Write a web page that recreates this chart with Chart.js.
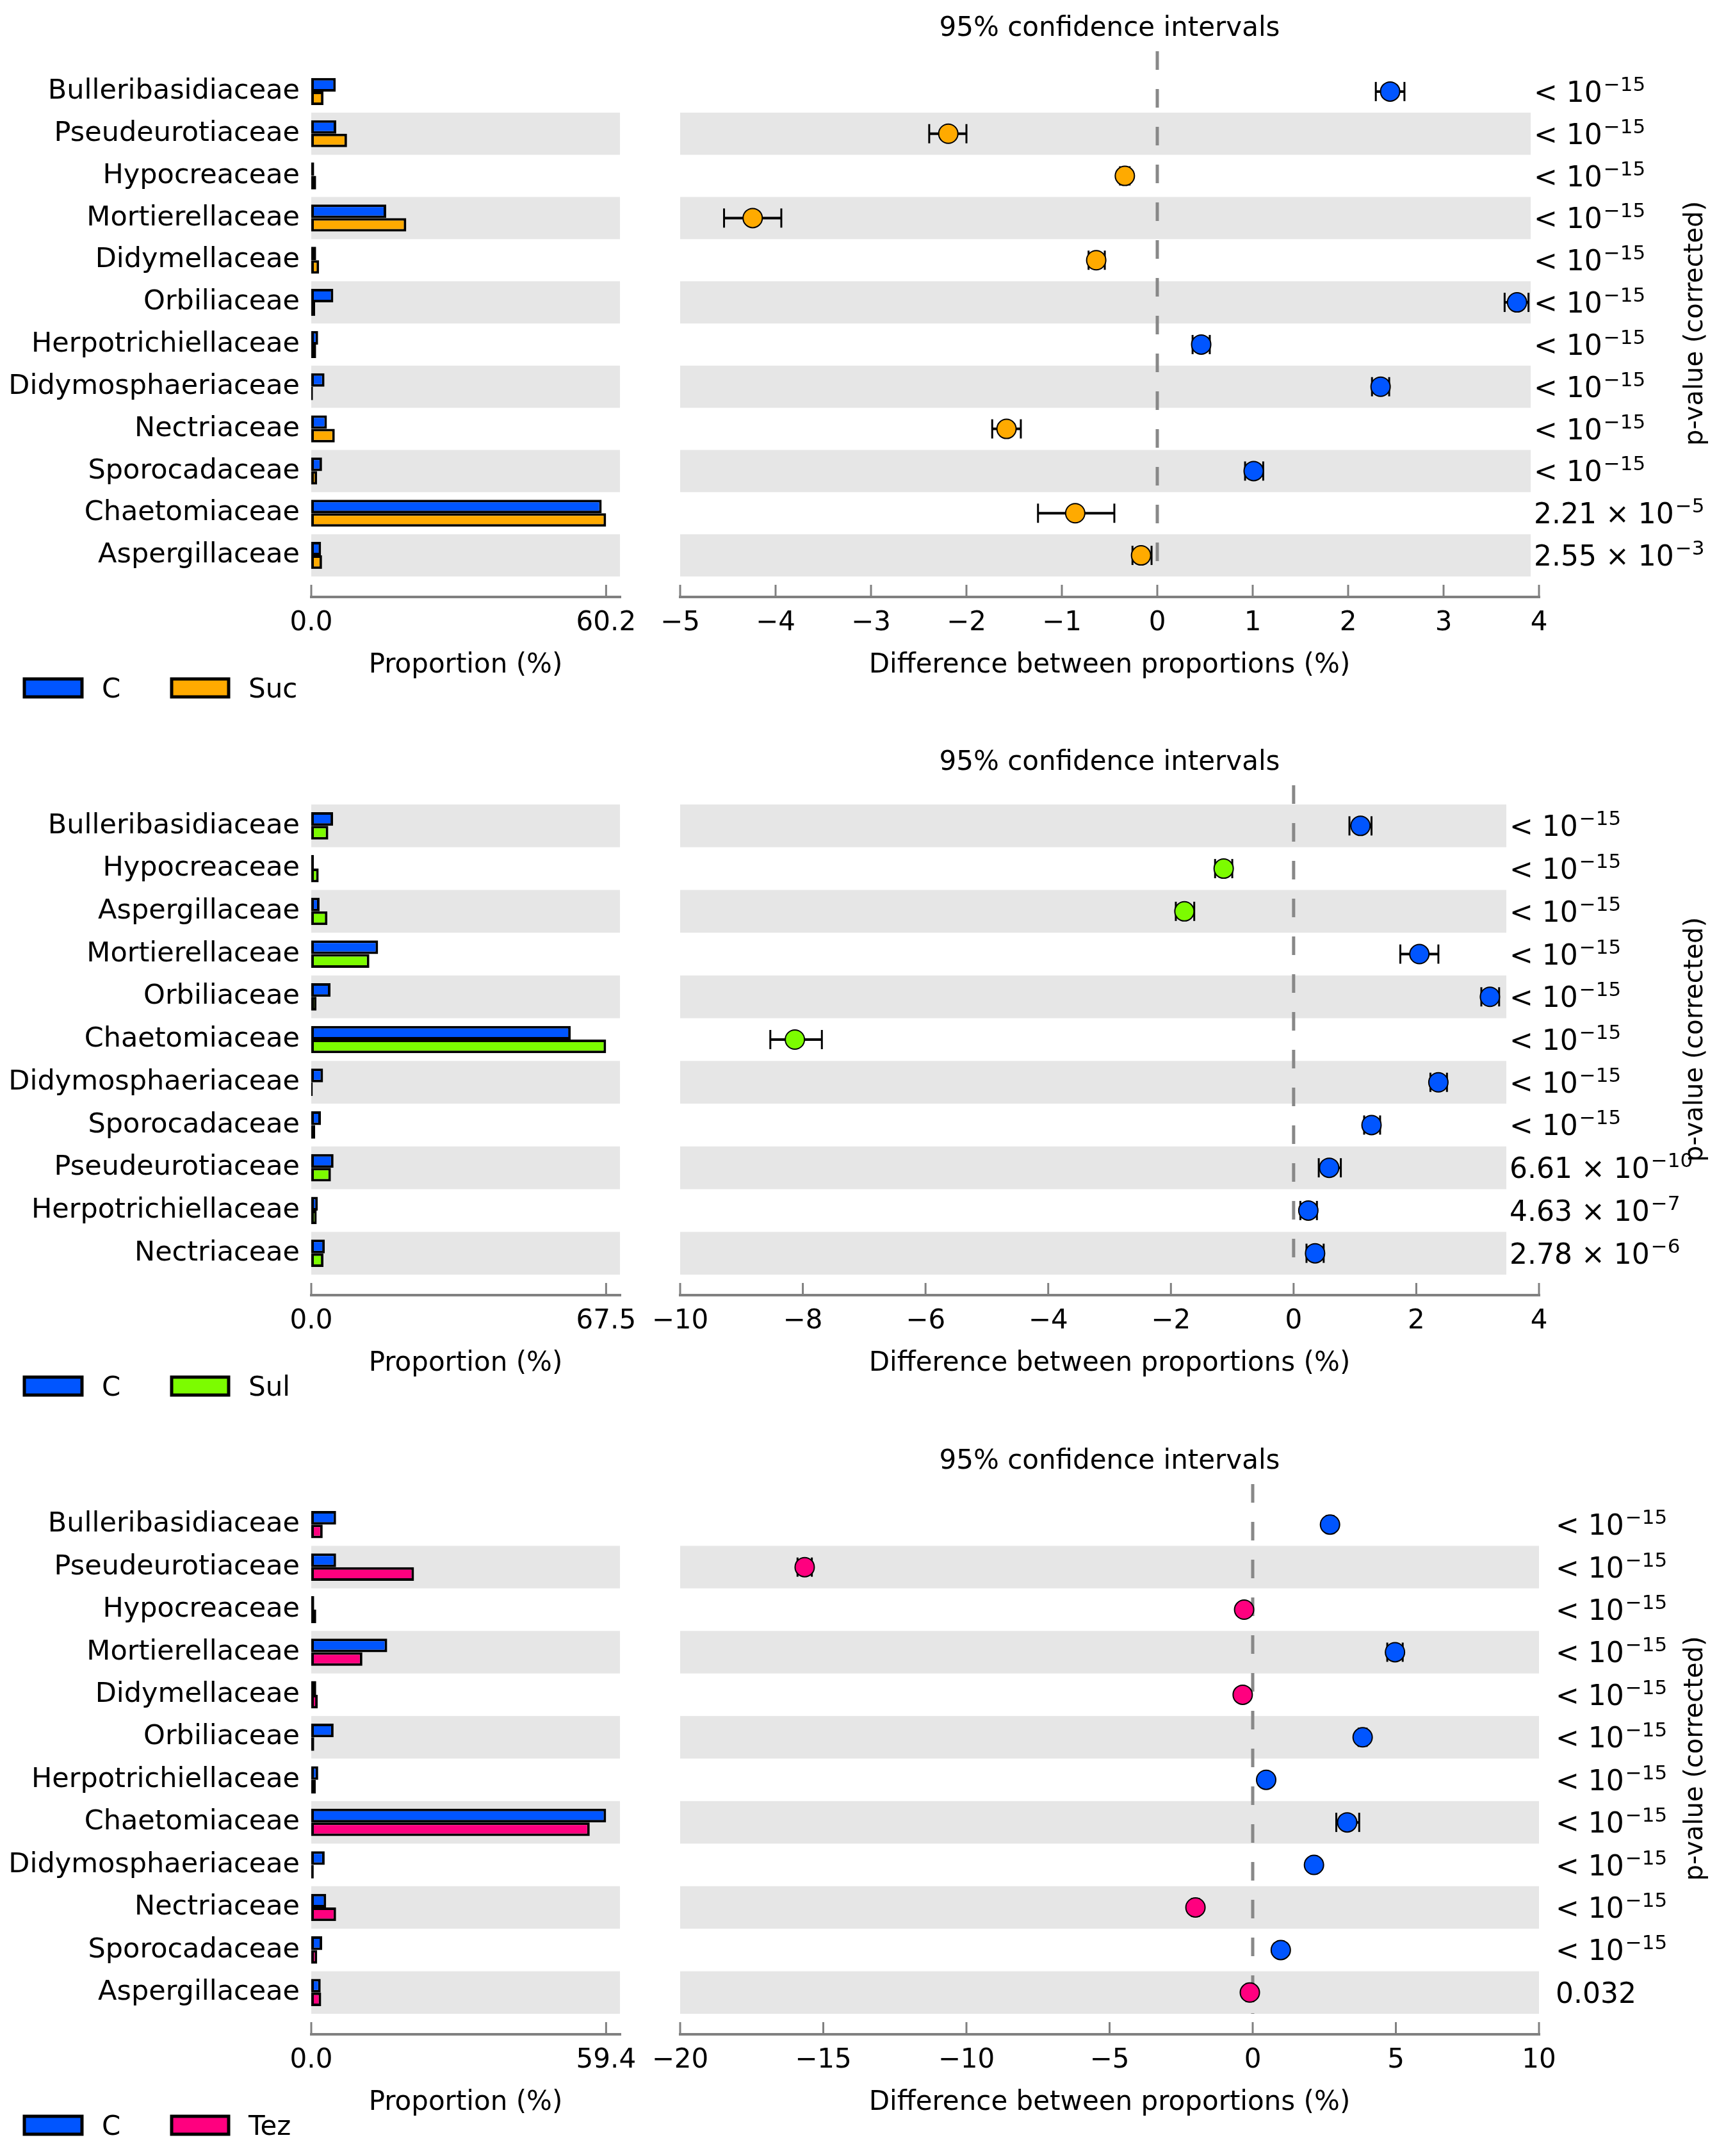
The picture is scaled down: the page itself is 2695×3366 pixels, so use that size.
<!DOCTYPE html>
<html>
<head>
<meta charset="utf-8">
<script src="https://cdn.jsdelivr.net/npm/chart.js@4.4.1/dist/chart.umd.min.js"></script>
<style>
  body { margin: 0; background: #fff; }
  #page { position: relative; width: 2695px; height: 3366px; background: #fff; overflow: hidden; }
  canvas { position: absolute; }
</style>
</head>
<body>
<div id="page"></div>
<script>
// ---- C vs Suc ----
var famSuc = ['Bulleribasidiaceae', 'Pseudeurotiaceae', 'Hypocreaceae', 'Mortierellaceae', 'Didymellaceae', 'Orbiliaceae',
  'Herpotrichiellaceae', 'Didymosphaeriaceae', 'Nectriaceae', 'Sporocadaceae', 'Chaetomiaceae', 'Aspergillaceae'];
var propC_Suc = [5.0, 5.1, 0.6, 15.3, 1.0, 4.5, 1.4, 2.7, 3.2, 2.2, 59.3, 2.0];
var propSuc = [2.5, 7.3, 1.0, 19.4, 1.6, 0.8, 1.0, 0.35, 4.8, 1.2, 60.2, 2.2];
var diffSuc = [2.44, -2.19, -0.34, -4.24, -0.64, 3.77, 0.46, 2.34, -1.58, 1.01, -0.86, -0.17];
var lowSuc = [2.29, -2.39, -0.39, -4.54, -0.72, 3.64, 0.37, 2.25, -1.73, 0.92, -1.25, -0.26];
var highSuc = [2.59, -2.00, -0.29, -3.94, -0.55, 3.89, 0.55, 2.43, -1.43, 1.11, -0.45, -0.06];
var pSuc = ['< 10^\u221215', '< 10^\u221215', '< 10^\u221215', '< 10^\u221215', '< 10^\u221215', '< 10^\u221215',
  '< 10^\u221215', '< 10^\u221215', '< 10^\u221215', '< 10^\u221215', '2.21 \u00d7 10^\u22125', '2.55 \u00d7 10^\u22123'];
var barTicksSuc = [0, 60.2];
var diffTicksSuc = [-5, -4, -3, -2, -1, 0, 1, 2, 3, 4];

// ---- C vs Sul ----
var famSul = ['Bulleribasidiaceae', 'Hypocreaceae', 'Aspergillaceae', 'Mortierellaceae', 'Orbiliaceae', 'Chaetomiaceae',
  'Didymosphaeriaceae', 'Sporocadaceae', 'Pseudeurotiaceae', 'Herpotrichiellaceae', 'Nectriaceae'];
var propC_Sul = [5.0, 0.6, 1.9, 15.3, 4.4, 59.4, 2.7, 2.2, 5.1, 1.5, 3.1];
var propSul = [3.9, 1.7, 3.7, 13.3, 1.2, 67.5, 0.35, 0.9, 4.5, 1.25, 2.8];
var diffSul = [1.09, -1.14, -1.78, 2.05, 3.20, -8.13, 2.36, 1.27, 0.58, 0.24, 0.35];
var lowSul = [0.91, -1.28, -1.92, 1.74, 3.06, -8.53, 2.23, 1.15, 0.41, 0.11, 0.21];
var highSul = [1.27, -1.00, -1.62, 2.36, 3.35, -7.69, 2.50, 1.41, 0.77, 0.38, 0.49];
var pSul = ['< 10^\u221215', '< 10^\u221215', '< 10^\u221215', '< 10^\u221215', '< 10^\u221215', '< 10^\u221215',
  '< 10^\u221215', '< 10^\u221215', '6.61 \u00d7 10^\u221210', '4.63 \u00d7 10^\u22127', '2.78 \u00d7 10^\u22126'];
var barTicksSul = [0, 67.5];
var diffTicksSul = [-10, -8, -6, -4, -2, 0, 2, 4];

// ---- C vs Tez ----
var famTez = ['Bulleribasidiaceae', 'Pseudeurotiaceae', 'Hypocreaceae', 'Mortierellaceae', 'Didymellaceae', 'Orbiliaceae',
  'Herpotrichiellaceae', 'Chaetomiaceae', 'Didymosphaeriaceae', 'Nectriaceae', 'Sporocadaceae', 'Aspergillaceae'];
var propC_Tez = [5.0, 5.0, 0.6, 15.3, 1.0, 4.5, 1.4, 59.4, 2.7, 3.0, 2.2, 1.9];
var propTez = [2.3, 20.7, 1.0, 10.3, 1.3, 0.6, 0.9, 56.1, 0.5, 5.0, 1.2, 2.0];
var diffTez = [2.70, -15.65, -0.30, 4.97, -0.35, 3.84, 0.47, 3.30, 2.14, -2.00, 0.98, -0.10];
var lowTez = [2.58, -15.90, -0.36, 4.70, -0.42, 3.70, 0.40, 2.92, 2.04, -2.12, 0.88, -0.22];
var highTez = [2.82, -15.40, -0.24, 5.24, -0.28, 3.98, 0.54, 3.72, 2.24, -1.88, 1.08, 0.02];
var pTez = ['< 10^\u221215', '< 10^\u221215', '< 10^\u221215', '< 10^\u221215', '< 10^\u221215', '< 10^\u221215',
  '< 10^\u221215', '< 10^\u221215', '< 10^\u221215', '< 10^\u221215', '< 10^\u221215', '0.032'];
var barTicksTez = [0, 59.4];
var diffTicksTez = [-20, -15, -10, -5, 0, 5, 10];

// colours
var BLUE = 'rgb(0,85,255)';
var ORANGE = 'rgb(255,170,0)';
var GREEN = 'rgb(124,252,0)';
var PINK = 'rgb(255,0,127)';
var BAND = 'rgb(230,230,230)';
var AXIS = 'rgb(128,128,128)';
var FONT = '"DejaVu Sans", sans-serif';

Chart.defaults.font.family = FONT;

var page = document.getElementById('page');
var PAD_TOP = 100, PAD_BOTTOM = 200;

// one entry per comparison (layout only, values come from the arrays above)
var panels = [
  { top: 110, row: 65.8, fam: famSuc, c: propC_Suc, g: propSuc, name: 'Suc', color: ORANGE, barTicks: barTicksSuc,
    diff: diffSuc, low: lowSuc, high: highSuc, p: pSuc, ticks: diffTicksSuc, pX: 2395 },
  { top: 1256, row: 66.7, fam: famSul, c: propC_Sul, g: propSul, name: 'Sul', color: GREEN, barTicks: barTicksSul,
    diff: diffSul, low: lowSul, high: highSul, p: pSul, ticks: diffTicksSul, pX: 2357 },
  { top: 2347, row: 66.4, fam: famTez, c: propC_Tez, g: propTez, name: 'Tez', color: PINK, barTicks: barTicksTez,
    diff: diffTez, low: lowTez, high: highTez, p: pTez, ticks: diffTicksTez, pX: 2429 }
];

function makeCanvas(left, top, w, h) {
  var c = document.createElement('canvas');
  c.width = w; c.height = h;
  c.style.left = left + 'px'; c.style.top = top + 'px';
  c.style.width = w + 'px'; c.style.height = h + 'px';
  page.appendChild(c);
  return c;
}

function line(ctx, x1, y1, x2, y2) {
  ctx.beginPath(); ctx.moveTo(x1, y1); ctx.lineTo(x2, y2); ctx.stroke();
}

function text(ctx, s, x, y, size, align) {
  ctx.font = size + 'px ' + FONT;
  ctx.fillStyle = '#000';
  ctx.textAlign = align || 'center';
  ctx.textBaseline = 'alphabetic';
  ctx.fillText(s, x, y);
}

function tickText(v) {
  return v < 0 ? '\u2212' + Math.abs(v) : String(v);
}

// grey stripes, bottom row always shaded
function shade(ctx, yScale, n, x1, x2) {
  var h = Math.abs(yScale.getPixelForValue(1) - yScale.getPixelForValue(0));
  ctx.save();
  ctx.fillStyle = BAND;
  for (var i = 0; i < n; i++) {
    if ((n - 1 - i) % 2 !== 0) continue;
    var yc = yScale.getPixelForValue(i);
    ctx.fillRect(x1, yc - h / 2, x2 - x1, h);
  }
  ctx.restore();
}

// p-value text with superscript exponent
function drawP(ctx, s, x, yc) {
  var parts = s.split('^');
  ctx.fillStyle = '#000';
  ctx.textAlign = 'left';
  ctx.textBaseline = 'alphabetic';
  ctx.font = '44px ' + FONT;
  ctx.fillText(parts[0], x, yc + 16);
  if (parts[1]) {
    var w = ctx.measureText(parts[0]).width;
    ctx.font = '31px ' + FONT;
    ctx.fillText(parts[1], x + w + 2, yc - 1);
  }
}

panels.forEach(function(P) {
  var n = P.fam.length;
  var h = Math.round(n * P.row) + PAD_TOP + PAD_BOTTOM;
  var canvasTop = P.top - PAD_TOP;

  // ---------- left: proportions ----------
  var leftPlugin = {
    id: 'leftDeco',
    beforeDatasetsDraw: function(chart) {
      var a = chart.chartArea;
      shade(chart.ctx, chart.scales.y, n, a.left, a.right);
    },
    afterDraw: function(chart) {
      var ctx = chart.ctx, a = chart.chartArea, x = chart.scales.x;
      var ay = a.bottom + 32;
      ctx.save();
      ctx.strokeStyle = AXIS;
      ctx.lineWidth = 4;
      line(ctx, a.left - 2, ay, a.right + 2, ay);
      ctx.lineWidth = 3;
      P.barTicks.forEach(function(t) {
        var px = x.getPixelForValue(t);
        line(ctx, px, ay, px, ay - 19);
        text(ctx, t.toFixed(1), px, ay + 52, 42);
      });
      text(ctx, 'Proportion (%)', (a.left + a.right) / 2, ay + 118, 42);

      // legend
      var ly = ay + 142;
      var items = [[38, 128, 159], [268, 357, 388]];
      chart.data.datasets.forEach(function(ds, k) {
        var it = items[k];
        ctx.fillStyle = ds.backgroundColor;
        ctx.fillRect(it[0], ly - 14, it[1] - it[0], 28);
        ctx.strokeStyle = '#000';
        ctx.lineWidth = 5;
        ctx.strokeRect(it[0], ly - 14, it[1] - it[0], 28);
        text(ctx, ds.label, it[2], ly + 15, 42, 'left');
      });
      ctx.restore();
    }
  };

  new Chart(makeCanvas(0, canvasTop, 1000, h), {
    type: 'bar',
    data: {
      labels: P.fam,
      datasets: [
        { label: 'C', data: P.c, backgroundColor: BLUE, borderColor: '#000', borderWidth: 4, borderSkipped: false },
        { label: P.name, data: P.g, backgroundColor: P.color, borderColor: '#000', borderWidth: 4, borderSkipped: false }
      ]
    },
    options: {
      indexAxis: 'y',
      responsive: false,
      animation: false,
      devicePixelRatio: 1,
      categoryPercentage: 0.64,
      barPercentage: 1.0,
      layout: { padding: { top: PAD_TOP, bottom: PAD_BOTTOM, left: 0, right: 32 } },
      scales: {
        x: { min: 0, max: P.barTicks[1] * 1.047, display: false },
        y: {
          grid: { display: false, drawTicks: false },
          border: { display: false },
          ticks: { autoSkip: false, color: '#000', padding: 18, font: { size: 43 } },
          afterFit: function(s) { s.width = 486; }
        }
      },
      plugins: { legend: { display: false }, tooltip: { enabled: false } }
    },
    plugins: [leftPlugin]
  });

  // ---------- right: differences with 95% CI ----------
  var rightPlugin = {
    id: 'rightDeco',
    beforeDatasetsDraw: function(chart) {
      var ctx = chart.ctx, a = chart.chartArea, x = chart.scales.x, y = chart.scales.y;
      var bandRight = Math.min(a.right, P.pX - 1000 - 5);
      shade(ctx, y, n, a.left, bandRight);

      // zero line
      ctx.save();
      ctx.strokeStyle = 'rgb(136,136,136)';
      ctx.lineWidth = 5;
      ctx.setLineDash([29, 30]);
      var zx = x.getPixelForValue(0);
      line(ctx, zx, a.top - 30, zx, a.bottom);
      ctx.restore();

      // confidence intervals
      ctx.save();
      ctx.strokeStyle = '#000';
      for (var i = 0; i < n; i++) {
        var yc = y.getPixelForValue(i);
        var x1 = x.getPixelForValue(P.low[i]);
        var x2 = x.getPixelForValue(P.high[i]);
        ctx.lineWidth = 4;
        line(ctx, x1, yc, x2, yc);
        ctx.lineWidth = 3;
        line(ctx, x1, yc - 15, x1, yc + 15);
        line(ctx, x2, yc - 15, x2, yc + 15);
      }
      ctx.restore();
    },
    afterDraw: function(chart) {
      var ctx = chart.ctx, a = chart.chartArea, x = chart.scales.x, y = chart.scales.y;
      var ay = a.bottom + 32;
      ctx.save();
      text(ctx, '95% confidence intervals', (a.left + a.right) / 2, a.top - 54, 42);

      ctx.strokeStyle = AXIS;
      ctx.lineWidth = 4;
      line(ctx, a.left - 2, ay, a.right + 2, ay);
      ctx.lineWidth = 3;
      P.ticks.forEach(function(t) {
        var px = x.getPixelForValue(t);
        line(ctx, px, ay, px, ay - 19);
        text(ctx, tickText(t), px, ay + 52, 42);
      });
      text(ctx, 'Difference between proportions (%)', (a.left + a.right) / 2, ay + 118, 42);

      for (var i = 0; i < n; i++) {
        drawP(ctx, P.p[i], P.pX - 1000, y.getPixelForValue(i));
      }

      ctx.translate(1648, (a.top + a.bottom) / 2);
      ctx.rotate(-Math.PI / 2);
      ctx.font = '40px ' + FONT;
      ctx.fillStyle = '#000';
      ctx.textAlign = 'center';
      ctx.textBaseline = 'middle';
      ctx.fillText('p-value (corrected)', 0, 0);
      ctx.restore();
    }
  };

  new Chart(makeCanvas(1000, canvasTop, 1695, h), {
    type: 'scatter',
    data: {
      datasets: [{
        label: 'difference',
        data: P.diff.map(function(d, i) { return { x: d, y: i }; }),
        pointRadius: 15,
        pointBorderWidth: 2,
        pointBorderColor: '#000',
        pointBackgroundColor: P.diff.map(function(d) { return d > 0 ? BLUE : P.color; }),
        clip: false
      }]
    },
    options: {
      responsive: false,
      animation: false,
      devicePixelRatio: 1,
      layout: { padding: { top: PAD_TOP, bottom: PAD_BOTTOM, left: 62, right: 292 } },
      scales: {
        x: { type: 'linear', min: P.ticks[0], max: P.ticks[P.ticks.length - 1], display: false },
        y: { type: 'linear', min: -0.5, max: n - 0.5, reverse: true, display: false }
      },
      plugins: { legend: { display: false }, tooltip: { enabled: false } }
    },
    plugins: [rightPlugin]
  });
});
</script>
</body>
</html>
